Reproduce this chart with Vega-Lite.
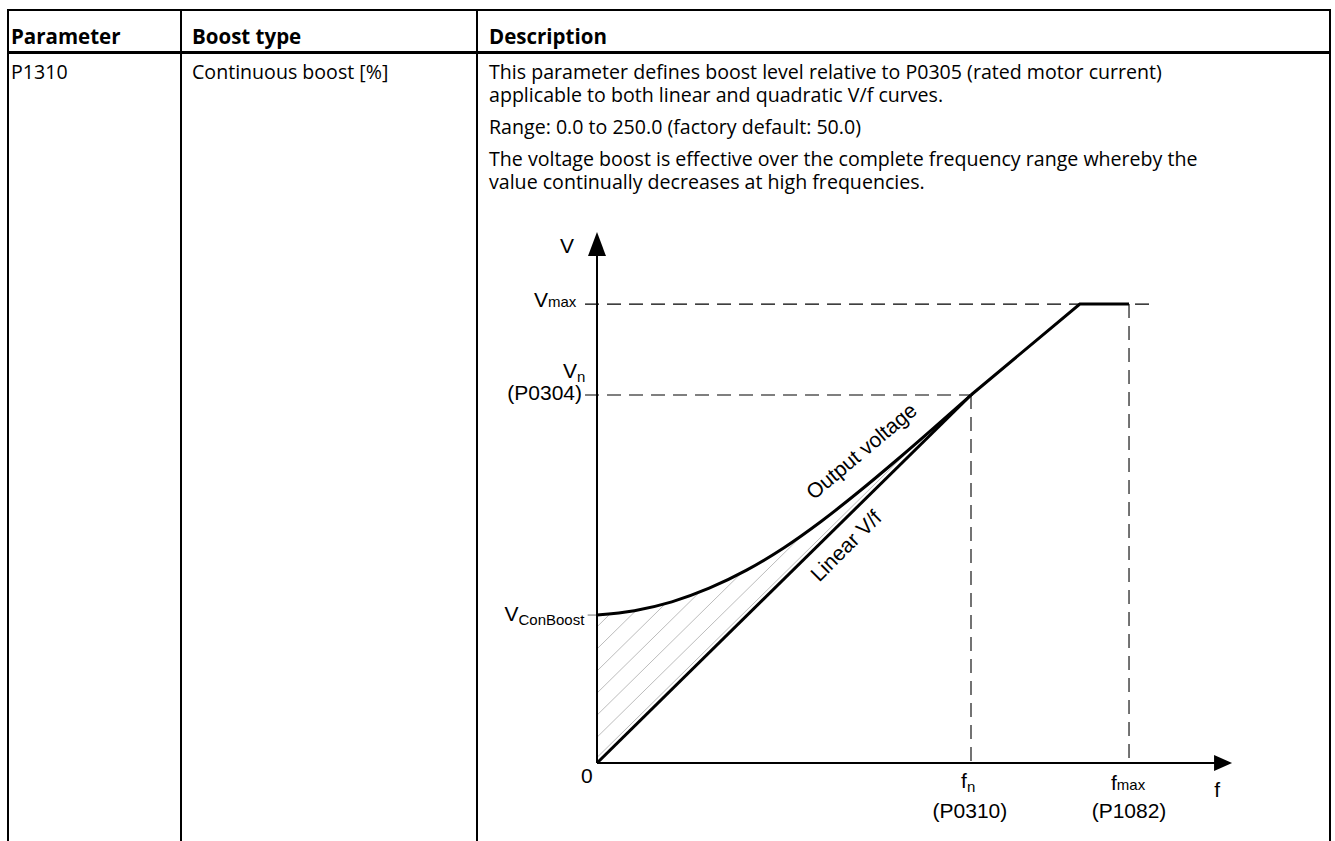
{
  "$schema": "https://vega.github.io/schema/vega-lite/v6.json",
  "width": 1335,
  "height": 841,
  "padding": 0,
  "autosize": {"type": "none"},
  "background": "white",
  "config": {"view": {"stroke": null}},
  "datasets": {
    "borders": [
      {"x": 7, "y": 10, "x2": 1331, "y2": 10},
      {"x": 8, "y": 9, "x2": 8, "y2": 841},
      {"x": 181, "y": 9, "x2": 181, "y2": 841},
      {"x": 477, "y": 9, "x2": 477, "y2": 841},
      {"x": 1330, "y": 9, "x2": 1330, "y2": 841}
    ],
    "headerRule": [
      {"x": 7, "y": 52.5, "x2": 1331, "y2": 52.5}
    ],
    "headerText": [
      {"x": 11, "y": 44, "text": "Parameter"},
      {"x": 192, "y": 44, "text": "Boost type"},
      {"x": 489, "y": 44, "text": "Description"}
    ],
    "cellText": [
      {"x": 11, "y": 79, "text": "P1310"},
      {"x": 192, "y": 79, "text": "Continuous boost [%]"},
      {"x": 489, "y": 79, "text": "This parameter defines boost level relative to P0305 (rated motor current)"},
      {"x": 489, "y": 102, "text": "applicable to both linear and quadratic V/f curves."},
      {"x": 489, "y": 134, "text": "Range: 0.0 to 250.0 (factory default: 50.0)"},
      {"x": 489, "y": 166, "text": "The voltage boost is effective over the complete frequency range whereby the"},
      {"x": 489, "y": 189, "text": "value continually decreases at high frequencies."}
    ],
    "axes": [
      {"f": 0, "V": 0, "f2": 0, "V2": 1.40},
      {"f": 0, "V": 0, "f2": 1.66, "V2": 0}
    ],
    "dashes": [
      {"f": -0.032, "V": 1.247, "f2": 1.492, "V2": 1.247},
      {"f": -0.032, "V": 1.0, "f2": 1.013, "V2": 1.0},
      {"f": 1.0, "V": 1.0, "f2": 1.0, "V2": 0},
      {"f": 1.4225, "V": 1.247, "f2": 1.4225, "V2": 0}
    ],
    "boostTick": [
      {"f": -0.025, "V": 0.402, "f2": 0, "V2": 0.402}
    ],
    "hatch": [
      {"f": 0, "V": 0.37, "f2": 0.036, "V2": 0.406},
      {"f": 0, "V": 0.31, "f2": 0.105, "V2": 0.415},
      {"f": 0, "V": 0.25, "f2": 0.184, "V2": 0.434},
      {"f": 0, "V": 0.19, "f2": 0.276, "V2": 0.466},
      {"f": 0, "V": 0.13, "f2": 0.388, "V2": 0.518},
      {"f": 0, "V": 0.07, "f2": 0.554, "V2": 0.624},
      {"f": 0, "V": 0.015, "f2": 0.858, "V2": 0.873}
    ],
    "output": [
      {"f": 0, "V": 0.402},
      {"f": 0.1, "V": 0.414},
      {"f": 0.2, "V": 0.438},
      {"f": 0.3, "V": 0.475},
      {"f": 0.4, "V": 0.524},
      {"f": 0.5, "V": 0.585},
      {"f": 0.6, "V": 0.657},
      {"f": 0.7, "V": 0.737},
      {"f": 0.8, "V": 0.822},
      {"f": 0.9, "V": 0.910},
      {"f": 1.0, "V": 1.0}
    ],
    "outputTop": [
      {"f": 1.0, "V": 1.0},
      {"f": 1.291, "V": 1.247},
      {"f": 1.4225, "V": 1.247}
    ],
    "linear": [
      {"f": 0, "V": 0},
      {"f": 1.0, "V": 1.0}
    ],
    "arrowUp": [{"f": 0, "V": 1.41}],
    "arrowRight": [{"f": 1.674, "V": 0}],
    "rightLabels": [
      {"f": -0.131, "V": 1.239, "text": "V"},
      {"f": -0.0535, "V": 1.046, "text": "V"},
      {"f": -0.21, "V": 0.386, "text": "V"},
      {"f": 0.989, "V": -0.068, "text": "f"},
      {"f": 1.390, "V": -0.073, "text": "f"},
      {"f": -0.040, "V": 0.9864, "text": "(P0304)"}
    ],
    "centerLabels": [
      {"f": -0.080, "V": 1.386, "text": "V"},
      {"f": -0.027, "V": -0.054, "text": "0"},
      {"f": 1.658, "V": -0.092, "text": "f"},
      {"f": 0.997, "V": -0.149, "text": "(P0310)"},
      {"f": 1.4225, "V": -0.149, "text": "(P1082)"}
    ],
    "subLabels": [
      {"f": -0.131, "V": 1.239, "text": "max"},
      {"f": -0.0535, "V": 1.035, "text": "n"},
      {"f": -0.21, "V": 0.375, "text": "ConBoost"},
      {"f": 0.989, "V": -0.079, "text": "n"},
      {"f": 1.390, "V": -0.073, "text": "max"}
    ],
    "curveLabels": [
      {"f": 0.709, "V": 0.845, "text": "Output voltage", "angle": -40},
      {"f": 0.668, "V": 0.588, "text": "Linear V/f", "angle": -45}
    ]
  },
  "layer": [
    {
      "layer": [
        {
          "data": {"name": "borders"},
          "mark": {"type": "rule", "color": "#000000", "strokeWidth": 2},
          "encoding": {
            "x": {"field": "x", "type": "quantitative", "axis": null, "scale": {"domain": [0, 1335], "range": [0, 1335], "nice": false, "zero": false}},
            "y": {"field": "y", "type": "quantitative", "axis": null, "scale": {"domain": [0, 841], "range": [0, 841], "nice": false, "zero": false}},
            "x2": {"field": "x2"},
            "y2": {"field": "y2"}
          }
        },
        {
          "data": {"name": "headerRule"},
          "mark": {"type": "rule", "color": "#000000", "strokeWidth": 3},
          "encoding": {
            "x": {"field": "x", "type": "quantitative", "axis": null, "scale": {"domain": [0, 1335], "range": [0, 1335], "nice": false, "zero": false}},
            "y": {"field": "y", "type": "quantitative", "axis": null, "scale": {"domain": [0, 841], "range": [0, 841], "nice": false, "zero": false}},
            "x2": {"field": "x2"},
            "y2": {"field": "y2"}
          }
        },
        {
          "data": {"name": "headerText"},
          "mark": {"type": "text", "align": "left", "baseline": "alphabetic", "font": "Open Sans", "fontSize": 20.5, "fontWeight": "bold", "color": "#000000"},
          "encoding": {
            "x": {"field": "x", "type": "quantitative", "axis": null, "scale": {"domain": [0, 1335], "range": [0, 1335], "nice": false, "zero": false}},
            "y": {"field": "y", "type": "quantitative", "axis": null, "scale": {"domain": [0, 841], "range": [0, 841], "nice": false, "zero": false}},
            "text": {"field": "text"}
          }
        },
        {
          "data": {"name": "cellText"},
          "mark": {"type": "text", "align": "left", "baseline": "alphabetic", "font": "Open Sans", "fontSize": 19.6, "color": "#000000"},
          "encoding": {
            "x": {"field": "x", "type": "quantitative", "axis": null, "scale": {"domain": [0, 1335], "range": [0, 1335], "nice": false, "zero": false}},
            "y": {"field": "y", "type": "quantitative", "axis": null, "scale": {"domain": [0, 841], "range": [0, 841], "nice": false, "zero": false}},
            "text": {"field": "text"}
          }
        }
      ]
    },
    {
      "layer": [
        {
          "data": {"name": "hatch"},
          "mark": {"type": "rule", "color": "#b4b4b4", "strokeWidth": 0.9},
          "encoding": {
            "x": {"field": "f", "type": "quantitative", "axis": null, "scale": {"domain": [0, 1], "range": [597, 971], "nice": false, "zero": false}},
            "y": {"field": "V", "type": "quantitative", "axis": null, "scale": {"domain": [0, 1], "range": [763, 395], "nice": false, "zero": false}},
            "x2": {"field": "f2"},
            "y2": {"field": "V2"}
          }
        },
        {
          "data": {"name": "dashes"},
          "mark": {"type": "rule", "color": "#000000", "strokeWidth": 1.1, "strokeDash": [14, 8]},
          "encoding": {
            "x": {"field": "f", "type": "quantitative", "axis": null, "scale": {"domain": [0, 1], "range": [597, 971], "nice": false, "zero": false}},
            "y": {"field": "V", "type": "quantitative", "axis": null, "scale": {"domain": [0, 1], "range": [763, 395], "nice": false, "zero": false}},
            "x2": {"field": "f2"},
            "y2": {"field": "V2"}
          }
        },
        {
          "data": {"name": "boostTick"},
          "mark": {"type": "rule", "color": "#888888", "strokeWidth": 1.2},
          "encoding": {
            "x": {"field": "f", "type": "quantitative", "axis": null, "scale": {"domain": [0, 1], "range": [597, 971], "nice": false, "zero": false}},
            "y": {"field": "V", "type": "quantitative", "axis": null, "scale": {"domain": [0, 1], "range": [763, 395], "nice": false, "zero": false}},
            "x2": {"field": "f2"},
            "y2": {"field": "V2"}
          }
        },
        {
          "data": {"name": "axes"},
          "mark": {"type": "rule", "color": "#000000", "strokeWidth": 2},
          "encoding": {
            "x": {"field": "f", "type": "quantitative", "axis": null, "scale": {"domain": [0, 1], "range": [597, 971], "nice": false, "zero": false}},
            "y": {"field": "V", "type": "quantitative", "axis": null, "scale": {"domain": [0, 1], "range": [763, 395], "nice": false, "zero": false}},
            "x2": {"field": "f2"},
            "y2": {"field": "V2"}
          }
        },
        {
          "data": {"name": "linear"},
          "mark": {"type": "line", "color": "#000000", "strokeWidth": 3},
          "encoding": {
            "x": {"field": "f", "type": "quantitative", "axis": null, "scale": {"domain": [0, 1], "range": [597, 971], "nice": false, "zero": false}},
            "y": {"field": "V", "type": "quantitative", "axis": null, "scale": {"domain": [0, 1], "range": [763, 395], "nice": false, "zero": false}}
          }
        },
        {
          "data": {"name": "output"},
          "mark": {"type": "line", "color": "#000000", "strokeWidth": 3, "interpolate": "monotone"},
          "encoding": {
            "x": {"field": "f", "type": "quantitative", "axis": null, "scale": {"domain": [0, 1], "range": [597, 971], "nice": false, "zero": false}},
            "y": {"field": "V", "type": "quantitative", "axis": null, "scale": {"domain": [0, 1], "range": [763, 395], "nice": false, "zero": false}}
          }
        },
        {
          "data": {"name": "outputTop"},
          "mark": {"type": "line", "color": "#000000", "strokeWidth": 3, "strokeJoin": "miter"},
          "encoding": {
            "x": {"field": "f", "type": "quantitative", "axis": null, "scale": {"domain": [0, 1], "range": [597, 971], "nice": false, "zero": false}},
            "y": {"field": "V", "type": "quantitative", "axis": null, "scale": {"domain": [0, 1], "range": [763, 395], "nice": false, "zero": false}}
          }
        },
        {
          "data": {"name": "arrowUp"},
          "mark": {"type": "point", "shape": "M-0.75,1L0,-1L0.75,1Z", "filled": true, "color": "#000000", "opacity": 1, "size": 576, "strokeWidth": 0},
          "encoding": {
            "x": {"field": "f", "type": "quantitative", "axis": null, "scale": {"domain": [0, 1], "range": [597, 971], "nice": false, "zero": false}},
            "y": {"field": "V", "type": "quantitative", "axis": null, "scale": {"domain": [0, 1], "range": [763, 395], "nice": false, "zero": false}}
          }
        },
        {
          "data": {"name": "arrowRight"},
          "mark": {"type": "point", "shape": "M-1,-0.9L1,0L-1,0.9Z", "filled": true, "color": "#000000", "opacity": 1, "size": 324, "strokeWidth": 0},
          "encoding": {
            "x": {"field": "f", "type": "quantitative", "axis": null, "scale": {"domain": [0, 1], "range": [597, 971], "nice": false, "zero": false}},
            "y": {"field": "V", "type": "quantitative", "axis": null, "scale": {"domain": [0, 1], "range": [763, 395], "nice": false, "zero": false}}
          }
        },
        {
          "data": {"name": "rightLabels"},
          "mark": {"type": "text", "align": "right", "baseline": "alphabetic", "font": "Liberation Sans", "fontSize": 21, "color": "#000000"},
          "encoding": {
            "x": {"field": "f", "type": "quantitative", "axis": null, "scale": {"domain": [0, 1], "range": [597, 971], "nice": false, "zero": false}},
            "y": {"field": "V", "type": "quantitative", "axis": null, "scale": {"domain": [0, 1], "range": [763, 395], "nice": false, "zero": false}},
            "text": {"field": "text"}
          }
        },
        {
          "data": {"name": "centerLabels"},
          "mark": {"type": "text", "align": "center", "baseline": "alphabetic", "font": "Liberation Sans", "fontSize": 21, "color": "#000000"},
          "encoding": {
            "x": {"field": "f", "type": "quantitative", "axis": null, "scale": {"domain": [0, 1], "range": [597, 971], "nice": false, "zero": false}},
            "y": {"field": "V", "type": "quantitative", "axis": null, "scale": {"domain": [0, 1], "range": [763, 395], "nice": false, "zero": false}},
            "text": {"field": "text"}
          }
        },
        {
          "data": {"name": "subLabels"},
          "mark": {"type": "text", "align": "left", "baseline": "alphabetic", "font": "Liberation Sans", "fontSize": 15, "color": "#000000"},
          "encoding": {
            "x": {"field": "f", "type": "quantitative", "axis": null, "scale": {"domain": [0, 1], "range": [597, 971], "nice": false, "zero": false}},
            "y": {"field": "V", "type": "quantitative", "axis": null, "scale": {"domain": [0, 1], "range": [763, 395], "nice": false, "zero": false}},
            "text": {"field": "text"}
          }
        },
        {
          "data": {"name": "curveLabels"},
          "mark": {"type": "text", "align": "center", "baseline": "middle", "font": "Liberation Sans", "fontSize": 21, "color": "#000000"},
          "encoding": {
            "x": {"field": "f", "type": "quantitative", "axis": null, "scale": {"domain": [0, 1], "range": [597, 971], "nice": false, "zero": false}},
            "y": {"field": "V", "type": "quantitative", "axis": null, "scale": {"domain": [0, 1], "range": [763, 395], "nice": false, "zero": false}},
            "text": {"field": "text"},
            "angle": {"field": "angle", "type": "quantitative", "scale": null, "legend": null}
          }
        }
      ]
    }
  ],
  "resolve": {"scale": {"x": "independent", "y": "independent"}}
}
